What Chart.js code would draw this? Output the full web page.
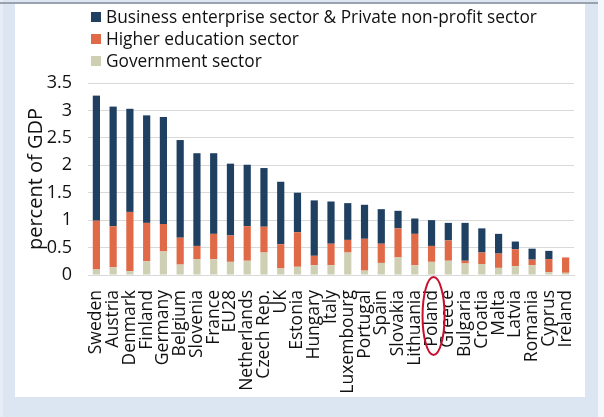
<!DOCTYPE html>
<html>
<head>
<meta charset="utf-8">
<script src="https://cdn.jsdelivr.net/npm/chart.js@4/dist/chart.umd.min.js"></script>
<style>
  html, body { margin: 0; padding: 0; }
  body { width: 604px; height: 417px; background: #dce6f2; position: relative; overflow: hidden; font-family: 'Open Sans', sans-serif; }
  #leftstrip { position: absolute; left: 0; top: 0; width: 3px; height: 417px; background: #e6edf6; }
  #topline { position: absolute; left: 0; top: 2px; width: 598px; height: 2px; background: #9aa3ad; }
  #rightwhite { position: absolute; left: 598px; top: 0; width: 6px; height: 417px; background: #f4f7fb; }
  #panel { position: absolute; left: 15px; top: 4px; width: 570px; height: 393px; background: #ffffff; }
  #chart { position: absolute; left: 0; top: 0; }
  #legend { position: absolute; left: 91px; top: 6px; font-size: 17.3px; color: #111; line-height: 22px; }
  #legend .row { display: flex; align-items: center; height: 22px; white-space: nowrap; }
  #legend .box { width: 10px; height: 10px; margin-right: 5px; flex: none; }
</style>
</head>
<body>
<div id="leftstrip"></div>
<div id="topline"></div>
<div id="rightwhite"></div>
<div id="panel"></div>
<canvas id="chart" width="604" height="417"></canvas>
<div id="legend"></div>
<script>
const categories = ["Sweden","Austria","Denmark","Finland","Germany","Belgium","Slovenia","France","EU28","Netherlands","Czech Rep.","UK","Estonia","Hungary","Italy","Luxembourg","Portugal","Spain","Slovakia","Lithuania","Poland","Greece","Bulgaria","Croatia","Malta","Latvia","Romania","Cyprus","Ireland"];
const government = [0.10,0.14,0.07,0.25,0.43,0.19,0.29,0.29,0.24,0.26,0.41,0.12,0.15,0.18,0.18,0.41,0.08,0.22,0.32,0.18,0.24,0.26,0.21,0.20,0.13,0.16,0.18,0.05,0.04];
const higherEducation = [0.89,0.75,1.08,0.70,0.50,0.49,0.24,0.46,0.48,0.63,0.47,0.44,0.63,0.17,0.39,0.23,0.58,0.35,0.53,0.57,0.29,0.37,0.05,0.21,0.26,0.31,0.10,0.24,0.28];
const business = [2.28,2.18,1.88,1.96,1.95,1.78,1.69,1.47,1.31,1.12,1.07,1.14,0.72,1.01,0.77,0.67,0.62,0.63,0.32,0.28,0.47,0.32,0.69,0.44,0.36,0.14,0.20,0.15,0.00];
const yTicks = [0, 0.5, 1, 1.5, 2, 2.5, 3, 3.5];
const seriesNames = ["Government sector", "Higher education sector", "Business enterprise sector & Private non-profit sector"];
const seriesColors = ["#cfcfb3", "#e06a48", "#1f4060"];
const highlighted = "Poland";

function draw() {
  Chart.defaults.font.family = "'Open Sans', sans-serif";
  Chart.defaults.color = "#111";

  const ellipsePlugin = {
    id: 'ellipse',
    afterDraw(chart) {
      const xs = chart.scales.x;
      const idx = categories.indexOf(highlighted);
      const cx = xs.getPixelForValue(idx) + 2;
      const cy = chart.chartArea.bottom + 41;
      const ctx = chart.ctx;
      ctx.save();
      ctx.beginPath();
      ctx.ellipse(cx, cy, 11, 39, 0, 0, Math.PI * 2);
      ctx.strokeStyle = "#c8102e";
      ctx.lineWidth = 2;
      ctx.stroke();
      ctx.restore();
    }
  };

  const chart = new Chart(document.getElementById('chart'), {
    type: 'bar',
    data: {
      labels: categories,
      datasets: [
        { label: seriesNames[0], data: government, backgroundColor: seriesColors[0] },
        { label: seriesNames[1], data: higherEducation, backgroundColor: seriesColors[1] },
        { label: seriesNames[2], data: business, backgroundColor: seriesColors[2] }
      ]
    },
    options: {
      responsive: false,
      animation: false,
      layout: { padding: { left: 24, right: 30, top: 83, bottom: 0 } },
      datasets: { bar: { barPercentage: 0.43, categoryPercentage: 1.0, borderWidth: 0 } },
      plugins: { legend: { display: false }, tooltip: { enabled: false } },
      scales: {
        x: {
          stacked: true,
          grid: { display: false, drawTicks: false },
          border: { display: true, color: "#d9d9d9", width: 1 },
          ticks: { autoSkip: false, maxRotation: 90, minRotation: 90, padding: 15, font: { size: 17.5 }, color: "#111" },
          afterFit(scale) { scale.height = 142; }
        },
        y: {
          stacked: true,
          min: 0, max: 3.5,
          afterBuildTicks(scale) { scale.ticks = yTicks.map(v => ({ value: v })); },
          grid: { color: "#d9d9d9", drawTicks: false, lineWidth: 1 },
          border: { display: false },
          ticks: { padding: 16, font: { size: 18 }, color: "#111", callback: (v) => String(v) },
          title: { display: true, text: "percent of GDP", font: { size: 20 }, color: "#111", padding: { top: 0, bottom: 0 } },
          afterFit(scale) { scale.width = 64; }
        }
      }
    },
    plugins: [ellipsePlugin]
  });

  const lg = document.getElementById('legend');
  for (let i = chart.data.datasets.length - 1; i >= 0; i--) {
    const ds = chart.data.datasets[i];
    const row = document.createElement('div');
    row.className = 'row';
    const box = document.createElement('span');
    box.className = 'box';
    box.style.background = ds.backgroundColor;
    const txt = document.createElement('span');
    txt.textContent = ds.label;
    row.appendChild(box);
    row.appendChild(txt);
    lg.appendChild(row);
  }
}

if (document.fonts && document.fonts.load) {
  Promise.all([document.fonts.load("16px 'Open Sans'"), document.fonts.load("20px 'Open Sans'")]).then(draw, draw);
} else { draw(); }
</script>
</body>
</html>
